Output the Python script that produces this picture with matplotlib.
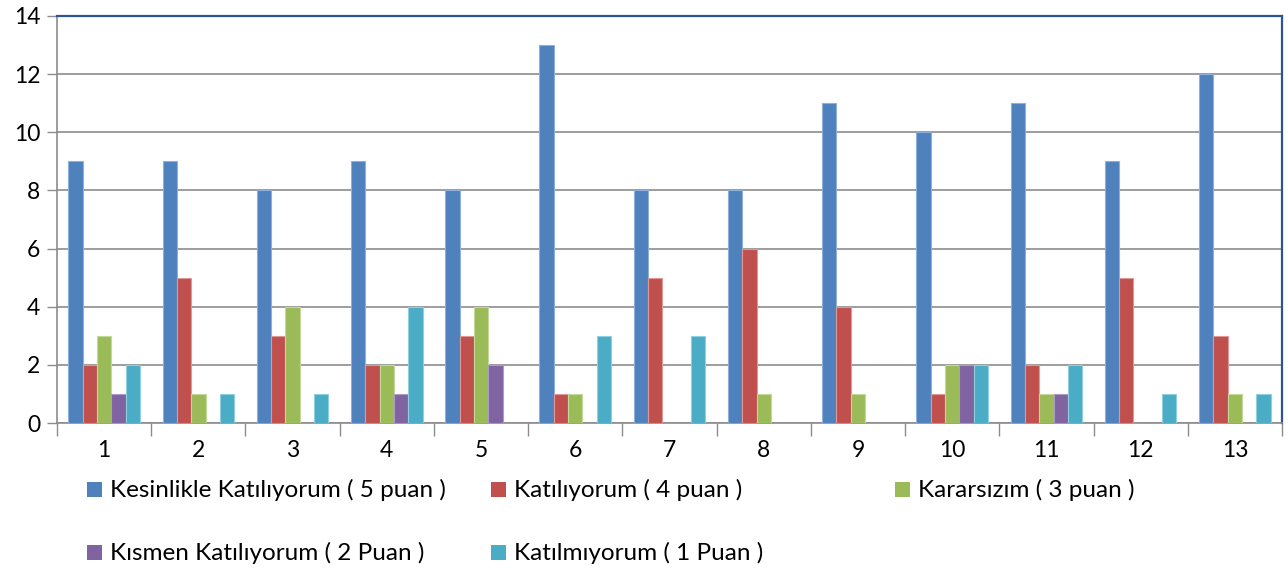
import numpy as np
import matplotlib.pyplot as plt
from matplotlib.patches import Rectangle

plt.rcParams['font.family'] = ['Lato', 'DejaVu Sans']

# data
categories = ['1', '2', '3', '4', '5', '6', '7', '8', '9', '10', '11', '12', '13']
series_names = ['Kesinlikle Katılıyorum ( 5 puan )', 'Katılıyorum ( 4 puan )',
                'Kararsızım ( 3 puan )', 'Kısmen Katılıyorum ( 2 Puan )',
                'Katılmıyorum ( 1 Puan )']
kesinlikle = [9, 9, 8, 9, 8, 13, 8, 8, 11, 10, 11, 9, 12]
katiliyorum = [2, 5, 3, 2, 3, 1, 5, 6, 4, 1, 2, 5, 3]
kararsizim = [3, 1, 4, 2, 4, 1, 0, 1, 1, 2, 1, 0, 1]
kismen = [1, 0, 0, 1, 2, 0, 0, 0, 0, 2, 1, 0, 0]
katilmiyorum = [2, 1, 1, 4, 0, 3, 3, 0, 0, 2, 2, 1, 1]
series = [kesinlikle, katiliyorum, kararsizim, kismen, katilmiyorum]
colors = ['#4F81BD', '#C0504D', '#9BBB59', '#8064A2', '#4BACC6']
edges = ['#8FB0DB', '#E09896', '#C3D99A', '#AE9AC8', '#8ED0E0']

fig = plt.figure(figsize=(12.88, 5.69), dpi=100)
ax = fig.add_axes([57 / 1288, 1 - 423 / 569, (1282 - 57) / 1288, (423 - 16) / 569])

x = np.arange(len(categories))
w = 0.152
for k, vals in enumerate(series):
    ax.bar(x + (k - 2) * w, vals, width=w, color=colors[k], edgecolor=edges[k],
           linewidth=0.8, zorder=3)

ax.set_xlim(-0.5, len(categories) - 0.5)
ax.set_ylim(0, 14)
ax.set_yticks(range(0, 15, 2))
ax.yaxis.grid(True, color='#8C8C8C', linewidth=1.2, zorder=0)

# category boundaries get the tick marks, centres get the labels
ax.set_xticks(np.arange(-0.5, len(categories)), minor=False)
ax.set_xticklabels([])
ax.set_xticks(x, minor=True)
ax.set_xticklabels(categories, minor=True)
ax.tick_params(axis='x', which='major', length=9, width=1, color='#8C8C8C')
ax.tick_params(axis='x', which='minor', length=0, pad=12, labelsize=16.5)
ax.tick_params(axis='y', length=7, width=1, color='#8C8C8C', labelsize=16.5, pad=5)

for s in ['left', 'bottom']:
    ax.spines[s].set_color('#8C8C8C')
    ax.spines[s].set_linewidth(1.2)
for s in ['top', 'right']:
    ax.spines[s].set_color('#2C5496')
    ax.spines[s].set_linewidth(1.6)

# legend laid out like the Excel one: fixed column pitch, two rows
col_x = [87, 491, 895]
row_y = [490, 553]
for k, name in enumerate(series_names):
    cx = col_x[k % 3]
    cy = row_y[k // 3]
    fig.patches.append(Rectangle((cx / 1288, 1 - (cy + 7) / 569), 15 / 1288, 15 / 569,
                                 transform=fig.transFigure, facecolor=colors[k],
                                 edgecolor='none'))
    fig.text((cx + 23) / 1288, 1 - cy / 569, name, fontsize=17.5, va='center', ha='left')

fig.savefig('out.png', dpi=100)
